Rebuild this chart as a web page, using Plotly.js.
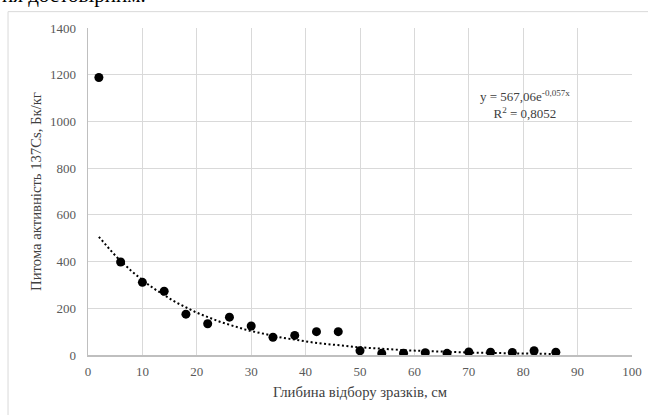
<!DOCTYPE html>
<html>
<head>
<meta charset="utf-8">
<script src="https://cdn.plot.ly/plotly-3.0.1.min.js"></script>
<style>
html,body{margin:0;padding:0;background:#fff;overflow:hidden}
#chart{width:648px;height:415px}
#chart text{font-family:'Liberation Serif','Times New Roman',serif !important;}
#chart .xtitle, #chart .ytitle{fill:#404040 !important;}
</style>
</head>
<body>
<div id="chart"></div>
<script>
// Depth of sampling, cm
const depth = [2, 6, 10, 14, 18, 22, 26, 30, 34, 38, 42, 46, 50, 54, 58, 62, 66, 70, 74, 78, 82, 86];
// Specific activity of 137Cs, Bq/kg
const activity = [1188, 398, 311, 273, 175, 134, 162, 124, 76, 84, 100, 100, 18, 7, 8, 10, 7, 13, 12, 11, 18, 12];
// Exponential trend shown on the chart: y = a * e^(b x)
const trendA = 567.06;
const trendB = -0.057;
const trendR2 = "0,8052";
const xTicks = [0, 10, 20, 30, 40, 50, 60, 70, 80, 90, 100];
const yTicks = [0, 200, 400, 600, 800, 1000, 1200, 1400];

const trendX = [];
const trendY = [];
const x0 = depth[0], x1 = depth[depth.length - 1];
for (let i = 0; i <= 100; i++) {
  const x = x0 + (x1 - x0) * i / 100;
  trendX.push(x);
  trendY.push(trendA * Math.exp(trendB * x));
}

const FONT = "Liberation Serif";

const data = [
  {x: trendX, y: trendY, mode: 'lines', type: 'scatter',
   line: {color: '#000', width: 2, dash: '2px,2.5px'}, hoverinfo: 'skip'},
  {x: depth, y: activity, mode: 'markers', type: 'scatter',
   marker: {color: '#000', size: 9}}
];

const layout = {
  width: 648, height: 415,
  margin: {l: 88, r: 16, t: 28, b: 60},
  paper_bgcolor: '#fff', plot_bgcolor: '#fff',
  showlegend: false,
  font: {family: FONT, size: 13, color: '#595959'},
  xaxis: {
    range: [0, 100], tickvals: xTicks, ticktext: xTicks.map(String),
    showgrid: true, gridcolor: '#d9d9d9', gridwidth: 1,
    showline: true, linecolor: '#bfbfbf', linewidth: 1.5,
    zeroline: false, ticks: '', ticklabelstandoff: 4,
    tickfont: {family: FONT, size: 13, color: '#595959'},
    title: {text: 'Глибина відбору зразків, см', standoff: 8,
            font: {family: FONT, size: 14.7, color: '#404040'}}
  },
  yaxis: {
    range: [0, 1400], tickvals: yTicks, ticktext: yTicks.map(String),
    showgrid: true, gridcolor: '#d9d9d9', gridwidth: 1,
    showline: true, linecolor: '#bfbfbf', linewidth: 1.5,
    zeroline: false, ticks: '', ticklabelstandoff: 8,
    tickfont: {family: FONT, size: 13, color: '#595959'},
    title: {text: 'Питома активність 137Cs, Бк/кг', standoff: 5,
            font: {family: FONT, size: 14.7, color: '#404040'}}
  },
  annotations: [
    {xref: 'x', yref: 'y', x: 80.3, y: 1072, showarrow: false,
     text: 'y = 567,06e<sup>-0,057x</sup><br>R<sup>2</sup> = ' + trendR2,
     font: {family: FONT, size: 13, color: '#404040'}, align: 'center'},
    {xref: 'paper', yref: 'paper', x: -0.162, y: 1.058, xanchor: 'left', yanchor: 'bottom',
     showarrow: false, text: 'ня достовірним.',
     font: {family: FONT, size: 21, color: '#000'}}
  ],
  shapes: [
    {type: 'rect', xref: 'paper', yref: 'paper',
     x0: -0.147, x1: 1.1, y0: -0.3, y1: 1.05,
     line: {color: '#d9d9d9', width: 1}, fillcolor: 'rgba(0,0,0,0)', layer: 'below'}
  ]
};

Plotly.newPlot('chart', data, layout, {displayModeBar: false, staticPlot: true});
</script>
</body>
</html>
